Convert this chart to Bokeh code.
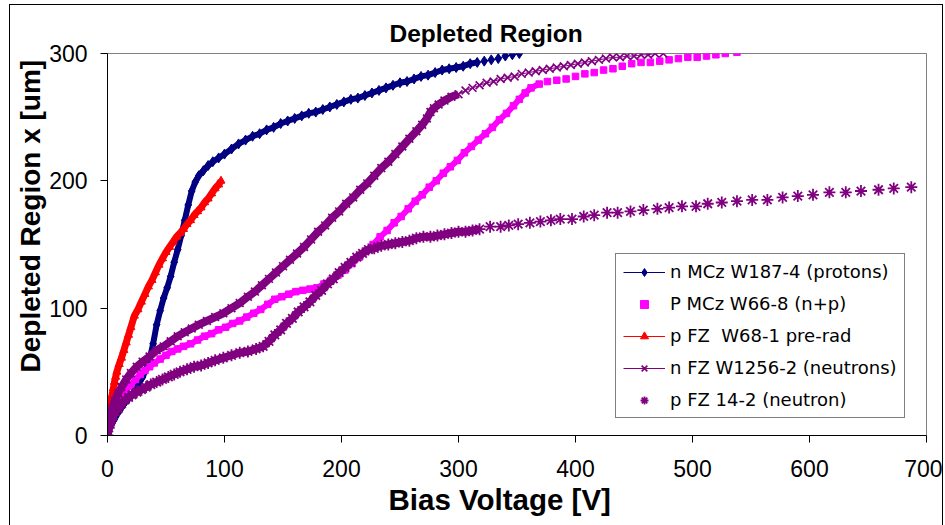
from bokeh.plotting import figure
from bokeh.models import Legend, LegendItem, Range1d, FixedTicker, Title
from bokeh.embed import file_html
from bokeh.resources import INLINE

title_text = "Depleted Region"
x_label = "Bias Voltage [V]"
y_label = "Depleted Region x [um]"
x_ticks = [0, 100, 200, 300, 400, 500, 600, 700]
y_ticks = [0, 100, 200, 300]

# n MCz W187-4 (protons)
blue_label = "n MCz W187-4 (protons)"
blue_v = [0, 3, 6, 9, 12, 15, 18, 21, 24, 27, 30, 33, 36, 39, 42, 45, 48, 51, 54, 57,
          60, 63, 66, 69, 72, 75, 78, 82, 86, 90, 95, 100, 106, 112, 118, 124, 130, 136,
          142, 148, 154, 160, 166, 172, 178, 184, 190, 196, 202, 208, 214, 220, 226, 232,
          238, 244, 250, 256, 262, 268, 274, 280, 286, 292, 298, 304, 310, 316, 322, 328,
          334, 340, 346, 352]
blue_d = [0, 8, 13, 18, 22, 26, 29, 32, 36, 41, 46, 52, 60, 72, 87, 98, 108, 116, 125, 136,
          146, 157, 169, 181, 192, 199, 204, 208, 212, 215, 218, 221, 225, 229, 232, 235, 237, 240,
          242, 245, 247, 249, 251, 253, 254, 256, 258, 260, 262, 264, 265, 267, 269, 271,
          273, 275, 277, 278, 280, 282, 283, 285, 287, 288, 289, 290, 292, 293, 294, 295,
          296, 298, 299, 300]

# P MCz W66-8 (n+p)
mag_label = "P MCz W66-8 (n+p)"
mag_v = [0, 2, 4, 6, 8, 10, 13, 16, 20, 24, 28, 32, 36, 40, 45, 50, 55, 60, 65, 71, 77, 83,
         89, 95, 101, 107, 113, 119, 125, 131, 137, 143, 149, 155, 161, 167, 173, 179, 185,
         191, 197, 203, 209, 215, 221, 227, 233, 239, 245, 251, 257, 263, 269, 275, 281, 287,
         293, 299, 305, 311, 317, 323, 329, 335, 341, 347, 352, 357, 362, 369, 376, 384, 392,
         400, 408, 416, 424, 432, 440, 448, 456, 464, 472, 480, 488, 496, 504, 512, 520, 528, 538]
mag_d = [0, 9, 15, 20, 24, 27, 31, 35, 40, 44, 48, 51, 54, 57, 60, 63, 66, 68, 70, 72, 75, 78,
         80, 83, 85, 88, 90, 93, 96, 99, 103, 107, 109, 111, 113, 114, 115, 116, 119,
         122, 126, 130, 135, 140, 145, 150, 156, 161, 167, 172, 178, 184, 189, 195, 200, 206,
         211, 216, 222, 227, 232, 237, 242, 248, 253, 259, 264, 269, 273, 276, 278, 279, 280,
         282, 284, 285, 287, 288, 290, 292, 293, 293, 294, 295, 296, 297, 297, 298, 299, 300, 301]

# p FZ W68-1 pre-rad
red_label = "p FZ  W68-1 pre-rad"
red_v = [0, 1, 2, 3, 4, 5, 6, 7, 8, 10, 12, 14, 16, 18, 20, 23, 26, 29, 32, 35, 38, 41, 44,
         47, 50, 53, 56, 59, 62, 65, 68, 71, 74, 77, 80, 83, 86, 89, 92, 95, 97]
red_d = [0, 12, 19, 26, 32, 37, 42, 46, 50, 56, 61, 67, 73, 79, 85, 94, 99, 105, 111, 117, 122,
         128, 134, 139, 144, 148, 152, 156, 159, 162, 166, 169, 173, 176, 179, 183, 186, 190,
         194, 197, 200]

# n FZ W1256-2 (neutrons)
px_label = "n FZ W1256-2 (neutrons)"
px_v = [0, 1, 2, 4, 6, 9, 12, 16, 20, 25, 30, 36, 42, 48, 54, 60, 66, 72, 78, 85, 92, 99,
        106, 113, 120, 126, 132, 138, 144, 150, 156, 162, 168, 174, 180, 186, 192, 198, 204,
        210, 216, 222, 228, 234, 240, 246, 252, 258, 264, 269, 273, 276, 279, 283, 288, 294,
        300, 306, 312, 318, 324, 330, 336, 342, 348, 354, 360, 366, 372, 378, 384, 390, 396,
        402, 408, 414, 420, 426, 432, 438, 444, 450, 456, 462, 468, 475]
px_d = [0, 8, 14, 21, 27, 33, 38, 44, 49, 54, 58, 62, 67, 70, 74, 78, 81, 84, 87, 90, 93, 96,
        100, 104, 109, 113, 118, 123, 128, 133, 138, 143, 148, 154, 160, 165, 171, 176, 182,
        187, 193, 198, 204, 210, 215, 221, 227, 233, 239, 244, 249, 254, 257, 260, 263, 266,
        268, 271, 273, 275, 277, 278, 280, 281, 282, 284, 285, 286, 287, 288, 289, 290, 291,
        292, 293, 294, 295, 296, 297, 297, 298, 298, 299, 299, 300, 300]

# p FZ 14-2 (neutron)
ps_label = "p FZ 14-2 (neutron)"
ps_v = [0, 1, 2, 3, 5, 7, 9, 12, 15, 18, 21, 25, 29, 33, 37, 42, 47, 52, 57, 62, 68, 74, 80,
        86, 92, 99, 106, 113, 120, 127, 133, 138, 143, 148, 153, 158, 163, 168, 173, 178, 183,
        188, 193, 198, 203, 208, 213, 218, 223, 228, 234, 240, 246, 252, 258, 264, 270, 276,
        282, 288, 294, 300, 306, 312, 318, 327, 336, 343, 351, 361, 370, 379, 387, 397, 407,
        416, 427, 436, 447, 458, 470, 480, 491, 503, 513, 525, 538, 551, 564, 577, 590, 603,
        617, 631, 644, 659, 672, 687]
ps_d = [0, 6, 10, 12, 16, 19, 21, 25, 28, 30, 32, 34, 36, 38, 40, 42, 44, 46, 48, 50, 52, 54, 55,
        57, 59, 61, 63, 65, 66, 68, 70, 74, 79, 83, 88, 92, 97, 101, 105, 110, 114,
        119, 123, 128, 132, 136, 140, 143, 146, 147, 149, 150, 151, 152, 153, 155, 156, 156,
        157, 158, 159, 160, 160, 161, 162, 164, 164, 165, 166, 167, 168, 169, 170, 170, 172,
        173, 175, 175, 176, 177, 178, 179, 180, 180, 182, 183, 184, 185, 185, 187, 188, 189,
        191, 191, 192, 193, 194, 195]

NAVY = "#000080"
MAGENTA = "#FF00FF"
RED = "#FF0000"
PURPLE = "#800080"
FONT = "Liberation Sans"


def upto(vs, ds, vmax):
    pairs = [(v, d) for v, d in zip(vs, ds) if v <= vmax]
    return [a for a, _ in pairs], [b for _, b in pairs]


p = figure(width=934, height=522, output_backend="svg", toolbar_location=None,
           x_range=Range1d(0, 700), y_range=Range1d(0, 300),
           min_border_left=97, min_border_right=18, min_border_top=48, min_border_bottom=92)
p.styles = {"margin-left": "9px", "margin-top": "4px", "border": "1px solid #000000"}
p.background_fill_color = "white"
p.border_fill_color = "white"
p.outline_line_color = "#808080"
p.outline_line_width = 1
p.xgrid.visible = False
p.ygrid.visible = False

p.title.text = title_text
p.title.text_font = FONT
p.title.text_font_style = "bold"
p.title.text_font_size = "24.5px"
p.title.text_color = "black"
p.title.align = "left"
p.title.offset = 282
p.title.standoff = 14

for ax, ticks in ((p.xaxis, x_ticks), (p.yaxis, y_ticks)):
    ax.ticker = FixedTicker(ticks=ticks)
    ax.axis_line_color = "black"
    ax.major_tick_line_color = "black"
    ax.minor_tick_line_color = None
    ax.major_tick_in = 0
    ax.major_tick_out = 7
    ax.major_label_text_font = FONT
    ax.major_label_text_font_size = "23px"
    ax.major_label_text_color = "black"
p.xaxis.major_label_standoff = 17
p.yaxis.major_label_standoff = 13

xlab = Title(text=x_label, align="left", offset=281, standoff=2,
             text_font=FONT, text_font_style="bold", text_font_size="29.5px",
             text_color="black")
p.add_layout(xlab, "below")
ylab = Title(text=y_label, align="left", offset=63, standoff=2,
             text_font=FONT, text_font_style="bold", text_font_size="28px",
             text_color="black")
p.add_layout(ylab, "left")

# --- series 1: navy diamonds with line
bv, bd = upto(blue_v, blue_d, 320)
p.line(bv, bd, line_color=NAVY, line_width=6)
blue_line = p.line(blue_v, blue_d, line_color=NAVY, line_width=1)
blue_pts = p.scatter(blue_v, blue_d, marker="diamond", size=10, fill_color=NAVY, line_color=NAVY)

# --- series 2: magenta squares, no line
mv, md = upto(mag_v, mag_d, 372)
p.line(mv, md, line_color=MAGENTA, line_width=6)
mag_pts = p.scatter(mag_v, mag_d, marker="square", size=6.5, fill_color=MAGENTA, line_color=MAGENTA)

# --- series 3: red triangles with line
p.line(red_v, red_d, line_color=RED, line_width=7)
red_line = p.line(red_v, red_d, line_color=RED, line_width=1)
red_pts = p.scatter(red_v, red_d, marker="triangle", size=8, fill_color=RED, line_color=RED)

# --- series 4: purple x with line
xv, xd = upto(px_v, px_d, 300)
p.line(xv, xd, line_color=PURPLE, line_width=8)
px_line = p.line(px_v, px_d, line_color=PURPLE, line_width=1)
px_pts = p.scatter(px_v, px_d, marker="x", size=11, line_color=PURPLE, line_width=1.7)

# --- series 5: purple asterisks, no line
sv, sd = upto(ps_v, ps_d, 322)
p.line(sv, sd, line_color=PURPLE, line_width=8)
ps_pts = p.scatter(ps_v, ps_d, marker="asterisk", size=12, line_color=PURPLE, line_width=1.8)

legend = Legend(items=[
    LegendItem(label=blue_label, renderers=[blue_line, blue_pts]),
    LegendItem(label=mag_label, renderers=[mag_pts]),
    LegendItem(label=red_label, renderers=[red_line, red_pts]),
    LegendItem(label=px_label, renderers=[px_line, px_pts]),
    LegendItem(label=ps_label, renderers=[ps_pts]),
], location=(508, 17))
legend.border_line_color = "black"
legend.border_line_width = 1
legend.background_fill_color = "white"
legend.background_fill_alpha = 1
legend.label_text_font = "DejaVu Sans"
legend.label_text_font_size = "18px"
legend.label_text_color = "black"
legend.glyph_width = 42
legend.glyph_height = 20
legend.label_height = 20
legend.label_standoff = 5
legend.spacing = 11
legend.padding = 7
legend.margin = 0
p.add_layout(legend, "center")

open("out.html", "w").write(file_html(p, INLINE))
